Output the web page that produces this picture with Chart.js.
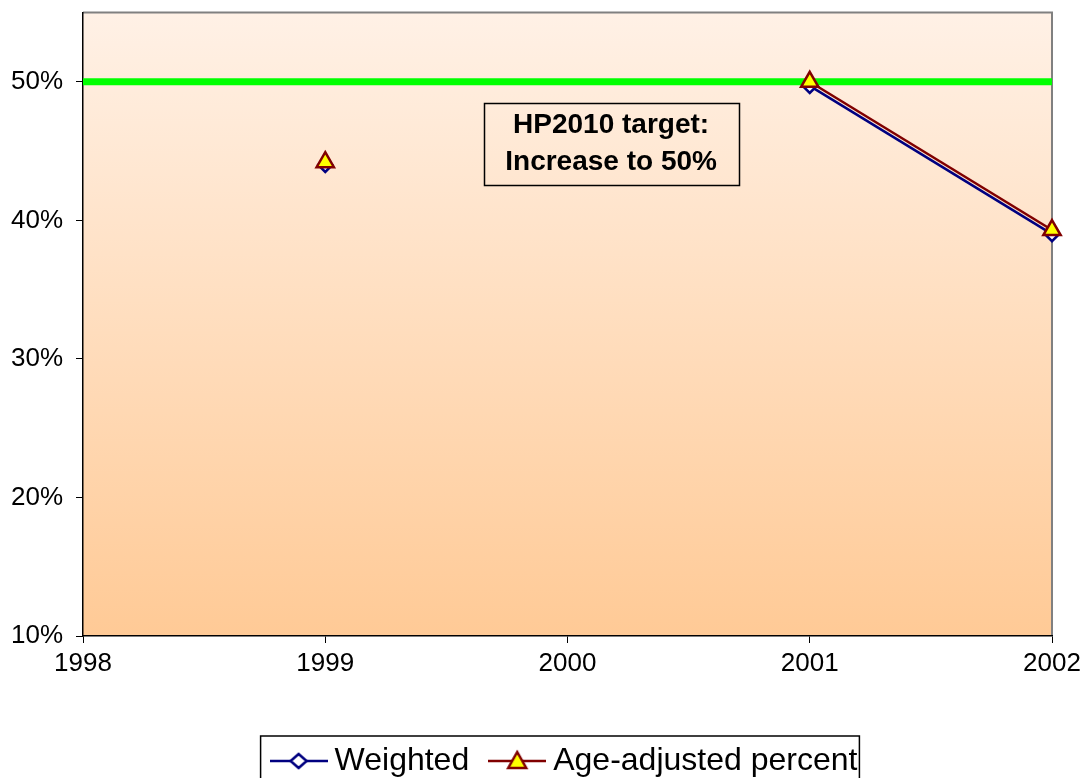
<!DOCTYPE html>
<html>
<head>
<meta charset="utf-8">
<script src="https://cdn.jsdelivr.net/npm/chart.js@4/dist/chart.umd.min.js"></script>
<style>
  html, body { margin: 0; padding: 0; background: #fff; }
  #wrap { width: 1089px; height: 778px; }
</style>
</head>
<body>
<div id="wrap"><canvas id="chart" width="1089" height="778"></canvas></div>
<script>
// chart values
const years = [1998, 1999, 2000, 2001, 2002];
const weighted = [null, 44.0, null, 49.7, 39.0];
const ageAdjusted = [null, 44.2, null, 50.0, 39.3];
const targetYears = [1998, 2002];
const targetValues = [50, 50];
const yTicks = [10, 20, 30, 40, 50];
const targetNote = ['HP2010 target:', 'Increase to 50%'];

const FONT = 'Arial, "Liberation Sans", sans-serif';

function toPoints(xs, ys) {
    return xs.map((x, i) => ({ x: x, y: ys[i] }));
}

// small canvas used as legend symbol: line with marker in the middle
function legendMarker(color, drawMarker) {
    const c = document.createElement('canvas');
    c.width = 58;
    c.height = 26;
    const g = c.getContext('2d');
    g.strokeStyle = color;
    g.lineWidth = 2.5;
    g.beginPath();
    g.moveTo(0, 13);
    g.lineTo(58, 13);
    g.stroke();
    drawMarker(g, 29, 13);
    return c;
}

const weightedMarker = legendMarker('#000080', function(g, x, y) {
    g.beginPath();
    g.moveTo(x, y - 7); g.lineTo(x + 8, y); g.lineTo(x, y + 7); g.lineTo(x - 8, y); g.closePath();
    g.fillStyle = '#fff'; g.fill();
    g.lineWidth = 2.5; g.strokeStyle = '#000080'; g.stroke();
});
const ageMarker = legendMarker('#800000', function(g, x, y) {
    g.beginPath();
    g.moveTo(x, y - 9); g.lineTo(x + 9, y + 7); g.lineTo(x - 9, y + 7); g.closePath();
    g.fillStyle = '#FFFF00'; g.fill();
    g.lineWidth = 2.5; g.strokeStyle = '#800000'; g.stroke();
});

// gradient plot area, grey top/right frame, note box, legend frame
const plotFrame = {
    id: 'plotFrame',
    afterLayout(chart) {
        // legend sits a bit right of centre in the original
        chart.legend.left += 42;
        chart.legend.right += 42;
    },
    beforeDraw(chart) {
        const ctx = chart.ctx;
        const a = chart.chartArea;
        const grad = ctx.createLinearGradient(0, a.top, 0, a.bottom);
        grad.addColorStop(0, '#FFF1E6');
        grad.addColorStop(1, '#FFCA96');
        ctx.save();
        ctx.fillStyle = grad;
        ctx.fillRect(a.left, a.top, a.right - a.left, a.bottom - a.top);
        ctx.strokeStyle = '#808080';
        ctx.lineWidth = 2;
        ctx.beginPath();
        ctx.moveTo(a.left, a.top);
        ctx.lineTo(a.right, a.top);
        ctx.lineTo(a.right, a.bottom);
        ctx.stroke();
        ctx.restore();
    },
    afterDatasetsDraw(chart) {
        const ctx = chart.ctx;
        const cx = chart.scales.x.getPixelForValue(2000.18);
        const cy = chart.scales.y.getPixelForValue(45.5);
        const w = 255, h = 82;
        ctx.save();
        ctx.strokeStyle = '#000';
        ctx.lineWidth = 1.5;
        ctx.strokeRect(Math.round(cx - w / 2) + 0.5, Math.round(cy - h / 2) + 0.5, w, h);
        ctx.fillStyle = '#000';
        ctx.font = 'bold 28px ' + FONT;
        ctx.textAlign = 'center';
        ctx.textBaseline = 'middle';
        ctx.fillText(targetNote[0], cx, cy - 19);
        ctx.fillText(targetNote[1], cx, cy + 18);
        ctx.restore();
    },
    afterDraw(chart) {
        const boxes = chart.legend.legendHitBoxes;
        if (!boxes || !boxes.length) return;
        const first = boxes[0];
        const last = boxes[boxes.length - 1];
        const ctx = chart.ctx;
        ctx.save();
        ctx.strokeStyle = '#000';
        ctx.lineWidth = 1.5;
        const left = first.left - 18;
        const right = last.left + last.width + 2;
        const top = first.top - 9;
        ctx.strokeRect(left, top, right - left, chart.height - top + 5);
        ctx.restore();
    }
};

const ctx = document.getElementById('chart').getContext('2d');
const chart = new Chart(ctx, {
    type: 'line',
    data: {
        datasets: [{
            label: 'HP2010 target',
            data: toPoints(targetYears, targetValues),
            borderColor: '#00FF00',
            borderWidth: 7,
            pointRadius: 0,
            order: 3
        }, {
            label: 'Weighted',
            data: toPoints(years, weighted),
            borderColor: '#000080',
            borderWidth: 2.5,
            pointStyle: 'rectRot',
            pointRadius: 7,
            pointBackgroundColor: '#fff',
            pointBorderColor: '#000080',
            pointBorderWidth: 2.5,
            spanGaps: false,
            clip: false,
            order: 2
        }, {
            label: 'Age-adjusted percent',
            data: toPoints(years, ageAdjusted),
            borderColor: '#800000',
            borderWidth: 2.5,
            pointStyle: 'triangle',
            pointRadius: 10,
            pointBackgroundColor: '#FFFF00',
            pointBorderColor: '#800000',
            pointBorderWidth: 2.5,
            spanGaps: false,
            clip: false,
            order: 1
        }]
    },
    options: {
        responsive: false,
        animation: false,
        layout: { padding: { top: 10, right: 37, left: 0, bottom: -9 } },
        plugins: {
            tooltip: { enabled: false },
            legend: {
                position: 'bottom',
                labels: {
                    font: { size: 32, family: FONT },
                    color: '#000',
                    usePointStyle: true,
                    pointStyleWidth: 40,
                    boxWidth: 40,
                    padding: 28,
                    generateLabels: function() {
                        return [
                            { text: 'Weighted', pointStyle: weightedMarker, datasetIndex: 1, lineWidth: 0, hidden: false },
                            { text: 'Age-adjusted percent', pointStyle: ageMarker, datasetIndex: 2, lineWidth: 0, hidden: false }
                        ];
                    }
                }
            }
        },
        scales: {
            x: {
                type: 'linear',
                min: 1998,
                max: 2002,
                afterFit: scale => { scale.height = 81; },
                ticks: {
                    stepSize: 1,
                    color: '#000',
                    font: { size: 26, family: FONT },
                    padding: 5,
                    callback: v => String(v)
                },
                grid: { drawOnChartArea: false, tickLength: 7, color: '#000' },
                border: { color: '#000', width: 1.5 }
            },
            y: {
                min: 10,
                max: 55,
                afterBuildTicks: scale => { scale.ticks = yTicks.map(v => ({ value: v })); },
                afterFit: scale => {
                    scale.width = 83;
                    scale.paddingTop = 0;
                    scale.paddingBottom = 0;
                },
                ticks: {
                    color: '#000',
                    font: { size: 26, family: FONT },
                    padding: 13,
                    callback: v => v + '%'
                },
                grid: { drawOnChartArea: false, tickLength: 7, color: '#000' },
                border: { color: '#000', width: 1.5 }
            }
        }
    },
    plugins: [plotFrame]
});
</script>
</body>
</html>
